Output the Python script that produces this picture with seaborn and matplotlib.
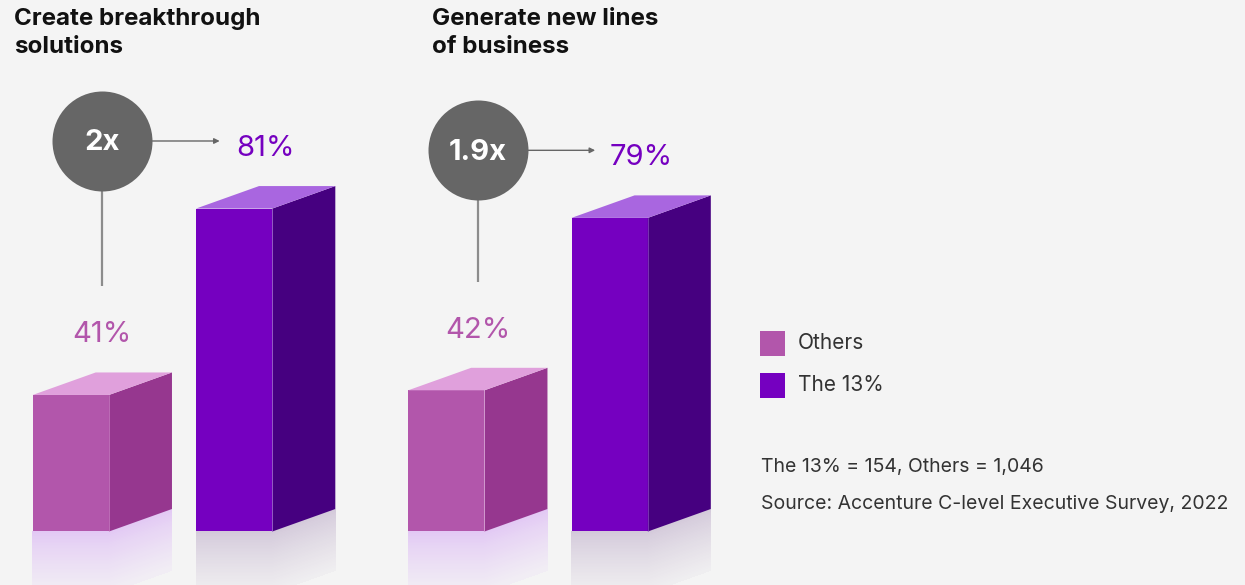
import numpy as np
import pandas as pd
import matplotlib
matplotlib.use("Agg")
import matplotlib.pyplot as plt
import matplotlib.colors as mcolors
from matplotlib.patches import Rectangle
import seaborn as sns

# ===========================
# DATA
# ===========================
goals = ["Create breakthrough\nsolutions", "Generate new lines\nof business"]
groups = ["Others", "The 13%"]
others_pct = [41, 42]
the13_pct = [81, 79]
multipliers = ["2x", "1.9x"]
legend_labels = ["Others", "The 13%"]
note_lines = ["The 13% = 154, Others = 1,046",
              "Source: Accenture C-level Executive Survey, 2022"]

# ===========================
# STYLE
# ===========================
BG = "#f4f4f4"
FRONT = {"Others": "#b256ab", "The 13%": "#7500c0"}
SIDE = {"Others": "#96378f", "The 13%": "#460080"}
TOP = {"Others": "#e0a0dc", "The 13%": "#a966e0"}
REFL = {"Others": "#e2c8f4", "The 13%": "#d3c9da"}
GREY = "#666666"

W, H = 1245, 585
PX_X = 375.5          # pixels per category unit
PX_Y = 4.66           # pixels per percent point
GROUND_PX = 53.5      # distance of ground line from figure bottom
GROUND = 11.7         # percent value at the ground line
X0_PX = 152.5         # pixel position of first category

sns.set_theme(style="white")
plt.rcParams["font.family"] = ["Inter", "DejaVu Sans"]

df = pd.DataFrame({
    "goal": goals * 2,
    "group": [groups[0]] * 2 + [groups[1]] * 2,
    "pct": others_pct + the13_pct,
})

fig = plt.figure(figsize=(W / 100, H / 100), dpi=100, facecolor=BG)
ax = fig.add_axes([0, GROUND_PX / H, 1, (H - GROUND_PX) / H])
ax.set_facecolor(BG)

sns.barplot(data=df, x="goal", y="pct", hue="group", order=goals,
            hue_order=groups, palette=FRONT, width=0.87, gap=0.533,
            saturation=1, errorbar=None, legend=False, linewidth=0, ax=ax)

ax.set_xlim(-X0_PX / PX_X, (W - X0_PX) / PX_X)
ax.set_ylim(GROUND, GROUND + (H - GROUND_PX) / PX_Y)
ax.axis("off")

dx = 63 / PX_X
dy = 22.5 / PX_Y
g = GROUND

# ---- 3D sides, tops and reflections on top of the seaborn bars ----
boxes = {}
for p in ax.patches:
    x0 = p.get_x()
    x1 = x0 + p.get_width()
    v = p.get_height()
    cx = x0 + p.get_width() / 2
    cat = int(round(cx))
    grp = "Others" if cx < cat else "The 13%"
    boxes[(cat, grp)] = (x0, x1, v)

    # side face
    ax.fill([x1, x1 + dx, x1 + dx, x1], [g, g + dy, v + dy, v],
            color=SIDE[grp], lw=0, zorder=3)
    # top face
    ax.fill([x0, x1, x1 + dx, x0 + dx], [v, v, v + dy, v + dy],
            color=TOP[grp], lw=0, zorder=3)
    # thin highlight on the front/side edge
    ax.plot([x1, x1], [g, v], color=TOP[grp], lw=0.6, alpha=0.6, zorder=4)

    # reflection below the ground line (fading strips)
    top_rgb = np.array(mcolors.to_rgb(REFL[grp]))
    bg_rgb = np.array(mcolors.to_rgb(BG))
    n = 40
    depth = 13.0
    for i in range(n):
        s0 = depth * i / n
        s1 = depth * (i + 1) / n + 0.15
        t = (i / (n - 1)) ** 0.8 * 0.85
        col = top_rgb * (1 - t) + bg_rgb * t
        ax.fill([x0, x1, x1 + dx, x1 + dx, x1, x0],
                [g - s0, g - s0, g + dy - s0, g + dy - s1, g - s1, g - s1],
                color=col, lw=0, antialiased=False, clip_on=False, zorder=2)

# ---- labels, circles, connectors ----
for i in range(len(goals)):
    ox0, ox1, ov = boxes[(i, "Others")]
    tx0, tx1, tv = boxes[(i, "The 13%")]
    ocx = ox0 + (ox1 - ox0 + dx) / 2
    tcx = tx0 + (tx1 - tx0 + dx) / 2

    ax.text(ocx, ov + 11.3, f"{others_pct[i]}%", color=FRONT["Others"],
            fontsize=21, ha="center", va="baseline", zorder=5)
    ax.text(tcx, tv + 11.3, f"{the13_pct[i]}%", color=FRONT["The 13%"],
            fontsize=21, ha="center", va="baseline", zorder=5)

    cy = tv + 14.5
    ax.plot([ocx, ocx], [cy, ov + 23.3], color="#8c8c8c", lw=1.6,
            solid_capstyle="butt", zorder=4)
    ax.scatter([ocx], [cy], s=72 ** 2, color=GREY, lw=0, zorder=5)
    ax.text(ocx, cy - 0.4, multipliers[i], color="white", fontsize=21,
            fontweight="bold", ha="center", va="center", zorder=6)
    ax.annotate("", xy=(tcx - 46 / PX_X, cy), xytext=(ocx + 50 / PX_X, cy),
                arrowprops=dict(arrowstyle="-|>", color=GREY, lw=1.0,
                                mutation_scale=8, shrinkA=0, shrinkB=0),
                zorder=5)

# ---- titles ----
title_x = [14, 432]
for tx, title in zip(title_x, goals):
    fig.text(tx / W, 1 - 8 / H, title, fontsize=17.4, fontweight="bold",
             color="#111111", ha="left", va="top", linespacing=1.38)

# ---- legend ----
leg_y = [343, 385]
for ly, lab, grp in zip(leg_y, legend_labels, groups):
    fig.add_artist(Rectangle(((760) / W, 1 - (ly + 12.5) / H), 25 / W, 25 / H,
                             transform=fig.transFigure, color=FRONT[grp], lw=0))
    fig.text(798 / W, 1 - ly / H, lab, fontsize=15, color="#333333",
             ha="left", va="center")

# ---- notes ----
for ny, note in zip([467, 504], note_lines):
    fig.text(761 / W, 1 - ny / H, note, fontsize=14, color="#333333",
             ha="left", va="center")

fig.savefig("out.png", dpi=100, facecolor=BG)
